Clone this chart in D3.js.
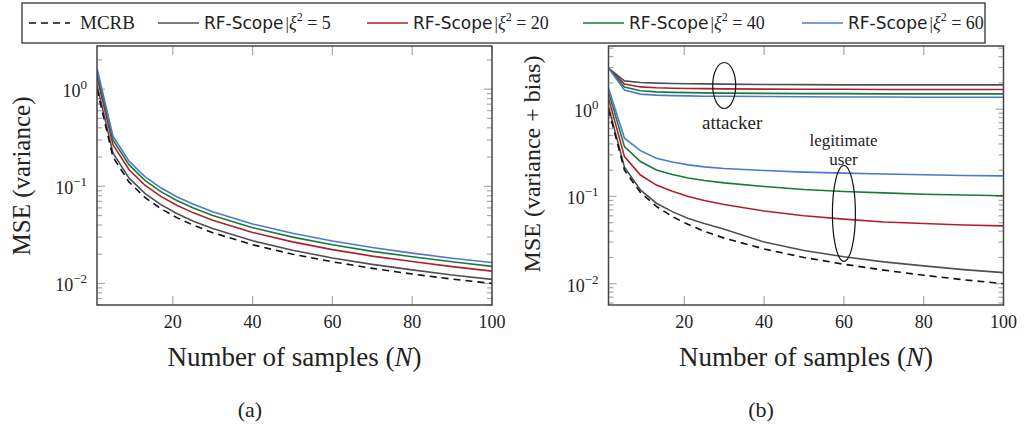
<!DOCTYPE html>
<html>
<head>
<meta charset="utf-8">
<script src="https://cdn.jsdelivr.net/npm/d3@7/dist/d3.min.js"></script>
<style>
  body { margin: 0; background: #fff; }
  svg { display: block; }
  .serif { font-family: "Liberation Serif", "DejaVu Serif", serif; fill: #222; }
  .sans { font-family: "DejaVu Sans", sans-serif; fill: #222; }
</style>
</head>
<body>
<svg id="chart" width="1029" height="426"></svg>
<script>
// sample counts N
const samples = [1, 5, 9, 13, 17, 21, 25, 30, 40, 50, 60, 70, 80, 90, 100];

// (a) MSE (variance)
const mcrb_a  = [1.00, 0.200, 0.111, 0.0769, 0.0588, 0.0476, 0.0400, 0.0333, 0.0250, 0.0200, 0.0167, 0.0143, 0.0125, 0.0111, 0.0100];
const xi5_a   = [1.10, 0.220, 0.122, 0.0846, 0.0647, 0.0524, 0.0440, 0.0367, 0.0275, 0.0220, 0.0183, 0.0157, 0.0138, 0.0122, 0.0110];
const xi20_a  = [1.34, 0.268, 0.149, 0.1030, 0.0788, 0.0638, 0.0536, 0.0447, 0.0335, 0.0268, 0.0223, 0.0191, 0.0168, 0.0149, 0.0134];
const xi40_a  = [1.50, 0.300, 0.167, 0.1150, 0.0882, 0.0714, 0.0600, 0.0500, 0.0375, 0.0300, 0.0250, 0.0214, 0.0188, 0.0167, 0.0150];
const xi60_a  = [1.64, 0.328, 0.182, 0.1260, 0.0965, 0.0781, 0.0656, 0.0547, 0.0410, 0.0328, 0.0273, 0.0234, 0.0205, 0.0182, 0.0164];

// (b) MSE (variance + bias), legitimate user
const mcrb_b  = [1.00, 0.200, 0.111, 0.0769, 0.0588, 0.0476, 0.0400, 0.0333, 0.0250, 0.0200, 0.0167, 0.0143, 0.0125, 0.0111, 0.0100];
const xi5_b   = [1.07, 0.216, 0.119, 0.0836, 0.0670, 0.0560, 0.0490, 0.0420, 0.0300, 0.0240, 0.0204, 0.0178, 0.0160, 0.0145, 0.0134];
const xi20_b  = [1.34, 0.286, 0.176, 0.135, 0.115, 0.100, 0.090, 0.081, 0.068, 0.060, 0.055, 0.051, 0.049, 0.047, 0.046];
const xi40_b  = [1.59, 0.372, 0.251, 0.201, 0.178, 0.163, 0.152, 0.143, 0.130, 0.120, 0.114, 0.110, 0.106, 0.104, 0.102];
const xi60_b  = [1.74, 0.465, 0.335, 0.274, 0.248, 0.230, 0.218, 0.209, 0.198, 0.190, 0.185, 0.181, 0.177, 0.174, 0.172];
// (b) attacker
const xi5_att  = [2.95, 2.11, 2.02, 1.99, 1.97, 1.96, 1.95, 1.94, 1.92, 1.91, 1.90, 1.90, 1.90, 1.90, 1.90];
const xi20_att = [2.95, 1.94, 1.80, 1.76, 1.74, 1.73, 1.72, 1.71, 1.70, 1.69, 1.69, 1.68, 1.68, 1.68, 1.68];
const xi40_att = [2.95, 1.79, 1.63, 1.58, 1.56, 1.55, 1.54, 1.53, 1.52, 1.51, 1.51, 1.50, 1.50, 1.50, 1.50];
const xi60_att = [2.95, 1.66, 1.49, 1.45, 1.43, 1.42, 1.41, 1.41, 1.40, 1.39, 1.38, 1.38, 1.37, 1.37, 1.37];

const x_ticks = [20, 40, 60, 80, 100];
const y_decades = [0, -1, -2];

const col = { grey: "#505050", red: "#b0202c", green: "#18793a", blue: "#4a7bc8", black: "#111" };

const svg = d3.select("#chart");

const top_y = 46, bot_y = 305;

function panel(cfg) {
  const x = d3.scaleLinear().domain([1, 100]).range([cfg.x0, cfg.x1]);
  const y = d3.scaleLog().domain(cfg.ydom).range([bot_y, top_y]);
  const g = svg.append("g");

  const clip_id = "clip" + cfg.name;
  svg.append("clipPath").attr("id", clip_id)
    .append("rect").attr("x", cfg.x0).attr("y", top_y).attr("width", cfg.x1 - cfg.x0).attr("height", bot_y - top_y);

  // y ticks (log minor + major), both sides, inside
  let yt = [];
  for (let d = -3; d <= 1; d++) {
    for (let k = 1; k <= 9; k++) {
      const v = k * Math.pow(10, d);
      if (v >= cfg.ydom[0] && v <= cfg.ydom[1]) yt.push({ v: v, major: k == 1 });
    }
  }
  g.selectAll("line.ytl").data(yt).enter().append("line")
    .attr("x1", cfg.x0).attr("x2", d => cfg.x0 + (d.major ? 8 : 5))
    .attr("y1", d => y(d.v)).attr("y2", d => y(d.v))
    .attr("stroke", "#aaa").attr("stroke-width", 1.2);
  g.selectAll("line.ytr").data(yt).enter().append("line")
    .attr("x1", cfg.x1).attr("x2", d => cfg.x1 - (d.major ? 8 : 5))
    .attr("y1", d => y(d.v)).attr("y2", d => y(d.v))
    .attr("stroke", "#aaa").attr("stroke-width", 1.2);

  // x ticks top and bottom
  g.selectAll("line.xtb").data(x_ticks).enter().append("line")
    .attr("x1", d => x(d)).attr("x2", d => x(d))
    .attr("y1", bot_y).attr("y2", bot_y - 9)
    .attr("stroke", "#aaa").attr("stroke-width", 1.2);
  g.selectAll("line.xtt").data(x_ticks).enter().append("line")
    .attr("x1", d => x(d)).attr("x2", d => x(d))
    .attr("y1", top_y).attr("y2", top_y + 9)
    .attr("stroke", "#aaa").attr("stroke-width", 1.2);

  // tick labels
  g.selectAll("text.xl").data(x_ticks).enter().append("text")
    .attr("class", "serif").attr("font-size", 18)
    .attr("x", d => x(d)).attr("y", 328).attr("text-anchor", "middle")
    .text(d => d);

  const ylab = g.selectAll("text.yl").data(y_decades).enter().append("text")
    .attr("class", "serif").attr("font-size", 18)
    .attr("x", cfg.x0 - 10).attr("y", d => y(Math.pow(10, d)) + 8)
    .attr("text-anchor", "end");
  ylab.append("tspan").text("10");
  ylab.append("tspan").attr("font-size", 13).attr("dy", -8)
    .text(d => d == 0 ? "0" : "\u2212" + (-d));

  // lines
  const line = d3.line().x((d, i) => x(samples[i])).y(d => y(d));
  const lg = g.append("g").attr("clip-path", "url(#" + clip_id + ")");
  cfg.series.forEach(s => {
    lg.append("path").datum(s.values)
      .attr("d", line).attr("fill", "none")
      .attr("stroke", s.color).attr("stroke-width", 1.6)
      .attr("stroke-dasharray", s.dash ? "7,5" : null);
  });

  // frame
  g.append("rect").attr("x", cfg.x0).attr("y", top_y)
    .attr("width", cfg.x1 - cfg.x0).attr("height", bot_y - top_y)
    .attr("fill", "none").attr("stroke", "#444").attr("stroke-width", 1.5);

  // axis labels
  const mid = (cfg.x0 + cfg.x1) / 2;
  const xl = g.append("text").attr("class", "serif").attr("font-size", 27)
    .attr("x", mid).attr("y", 366).attr("text-anchor", "middle");
  xl.append("tspan").text("Number of samples (");
  xl.append("tspan").attr("font-style", "italic").text("N");
  xl.append("tspan").text(")");

  g.append("text").attr("class", "serif").attr("font-size", cfg.yfs)
    .attr("transform", `translate(${cfg.ylx},${cfg.yly}) rotate(-90)`)
    .attr("text-anchor", "middle").attr("dy", "0.35em")
    .text(cfg.ytitle);

  g.append("text").attr("class", "serif").attr("font-size", 22)
    .attr("x", cfg.capx).attr("y", 417).attr("text-anchor", "middle")
    .text(cfg.caption);

  return { x: x, y: y, g: g };
}

const pa = panel({
  name: "a", x0: 97, x1: 492, ydom: [0.006, 2.78],
  ytitle: "MSE (variance)", yfs: 25, ylx: 21, yly: 176, capx: 250, caption: "(a)",
  series: [
    { values: xi5_a, color: col.grey },
    { values: xi20_a, color: col.red },
    { values: xi40_a, color: col.green },
    { values: xi60_a, color: col.blue },
    { values: mcrb_a, color: col.black, dash: true }
  ]
});

const pb = panel({
  name: "b", x0: 608.5, x1: 1003.5, ydom: [0.0057, 5.3],
  ytitle: "MSE (variance + bias)", yfs: 24, ylx: 532, yly: 164, capx: 761, caption: "(b)",
  series: [
    { values: xi5_att, color: col.grey },
    { values: xi20_att, color: col.red },
    { values: xi40_att, color: col.green },
    { values: xi60_att, color: col.blue },
    { values: xi5_b, color: col.grey },
    { values: xi20_b, color: col.red },
    { values: xi40_b, color: col.green },
    { values: xi60_b, color: col.blue },
    { values: mcrb_b, color: col.black, dash: true }
  ]
});

// annotations on (b)
pb.g.append("ellipse").attr("cx", pb.x(30)).attr("cy", pb.y(1.87))
  .attr("rx", 11.5).attr("ry", 23).attr("fill", "none").attr("stroke", "#111").attr("stroke-width", 1.2);
pb.g.append("text").attr("class", "serif").attr("font-size", 19)
  .attr("x", pb.x(32)).attr("y", 129).attr("text-anchor", "middle").text("attacker");
pb.g.append("ellipse").attr("cx", pb.x(60)).attr("cy", pb.y(0.064))
  .attr("rx", 11.5).attr("ry", 48).attr("fill", "none").attr("stroke", "#111").attr("stroke-width", 1.2);
pb.g.append("text").attr("class", "serif").attr("font-size", 17)
  .attr("x", pb.x(59.9)).attr("y", 146).attr("text-anchor", "middle").text("legitimate");
pb.g.append("text").attr("class", "serif").attr("font-size", 17)
  .attr("x", pb.x(59.9)).attr("y", 165).attr("text-anchor", "middle").text("user");

// legend
const legend = svg.append("g");
legend.append("rect").attr("x", 22).attr("y", 3).attr("width", 963).attr("height", 40)
  .attr("fill", "#fff").attr("stroke", "#222").attr("stroke-width", 1.2);

const legend_items = [
  { label: "MCRB", color: col.black, dash: true, x: 29 },
  { label: "5", color: col.grey, x: 158 },
  { label: "20", color: col.red, x: 367 },
  { label: "40", color: col.green, x: 583 },
  { label: "60", color: col.blue, x: 802 }
];
legend_items.forEach(it => {
  legend.append("line").attr("x1", it.x).attr("x2", it.x + 41).attr("y1", 23).attr("y2", 23)
    .attr("stroke", it.color).attr("stroke-width", 1.6)
    .attr("stroke-dasharray", it.dash ? "7,5" : null);
  if (it.dash) {
    legend.append("text").attr("class", "serif").attr("font-size", 19)
      .attr("x", 80).attr("y", 29).text(it.label);
  } else {
    const t = legend.append("text").attr("x", it.x + 46).attr("y", 29).attr("font-size", 17);
    t.append("tspan").attr("class", "sans").text("RF-Scope");
    t.append("tspan").attr("class", "serif").attr("dx", 2).text("|");
    t.append("tspan").attr("class", "serif").attr("font-style", "italic").attr("font-size", 18).text("\u03be");
    t.append("tspan").attr("class", "serif").attr("font-size", 12).attr("dy", -8).text("2");
    t.append("tspan").attr("class", "serif").attr("font-size", 18).attr("dy", 8).text(" = " + it.label);
  }
});
</script>
</body>
</html>
